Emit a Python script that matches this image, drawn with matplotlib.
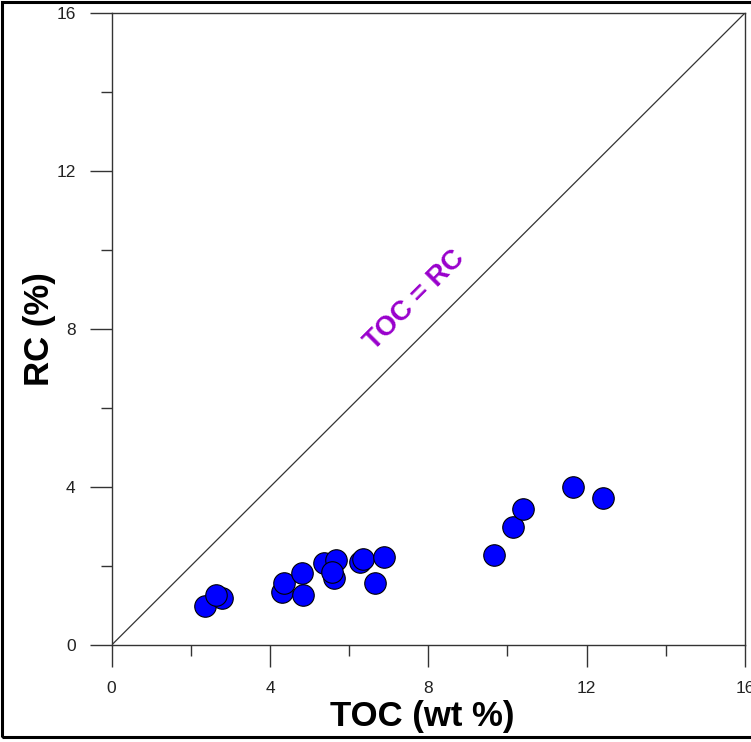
import matplotlib.pyplot as plt
from matplotlib.patches import Rectangle
from matplotlib.ticker import MultipleLocator

plt.rcParams['font.family'] = ['Liberation Sans', 'DejaVu Sans']

# TOC vs residual carbon
toc = [2.36, 2.78, 2.63, 4.30, 4.36, 4.84, 4.81, 5.37, 5.67, 5.62,
       5.56, 6.27, 6.36, 6.89, 6.64, 9.67, 10.15, 10.40, 11.65, 12.41]
rc = [0.99, 1.18, 1.27, 1.33, 1.57, 1.27, 1.82, 2.07, 2.15, 1.69,
      1.86, 2.11, 2.19, 2.23, 1.57, 2.28, 2.98, 3.44, 4.00, 3.73]

ticks = [0, 4, 8, 12, 16]
line_ends = [0, 16]

fig = plt.figure(figsize=(7.51, 7.42), dpi=100)
ax = fig.add_axes([0.1487, 0.1307, 0.8433, 0.8518])

# 1:1 reference line
ax.plot(line_ends, line_ends, color='#333333', lw=0.9, zorder=2)
ax.text(7.66, 8.73, 'TOC = RC', rotation=45, color='#9900CC',
        fontsize=20, fontweight='bold', ha='center', va='center')

ax.scatter(toc, rc, s=240, c='#0000FF', edgecolors='black',
           linewidths=0.8, zorder=3)

ax.set_xlim(0, 16)
ax.set_ylim(0, 16)
ax.set_xticks(ticks)
ax.set_yticks(ticks)
ax.xaxis.set_minor_locator(MultipleLocator(2))
ax.yaxis.set_minor_locator(MultipleLocator(2))
ax.tick_params(which='major', direction='out', length=16, width=1.0,
               color='#333333', labelsize=12.5, pad=10, labelcolor='#222222')
ax.tick_params(which='minor', direction='out', length=8, width=1.0,
               color='#333333')
for s in ax.spines.values():
    s.set_color('#333333')
    s.set_linewidth(1.0)

ax.set_xlabel('TOC (wt %)', fontsize=25, fontweight='bold', labelpad=3, x=0.49)
ax.set_ylabel('RC (%)', fontsize=25, fontweight='bold', labelpad=0)

# outer frame around the figure
fig.patches.append(Rectangle((0.002, 0.0067), 1.2, 0.991,
                             transform=fig.transFigure, fill=False,
                             edgecolor='black', lw=2.2, clip_on=False))

plt.savefig('out.png', dpi=100)
